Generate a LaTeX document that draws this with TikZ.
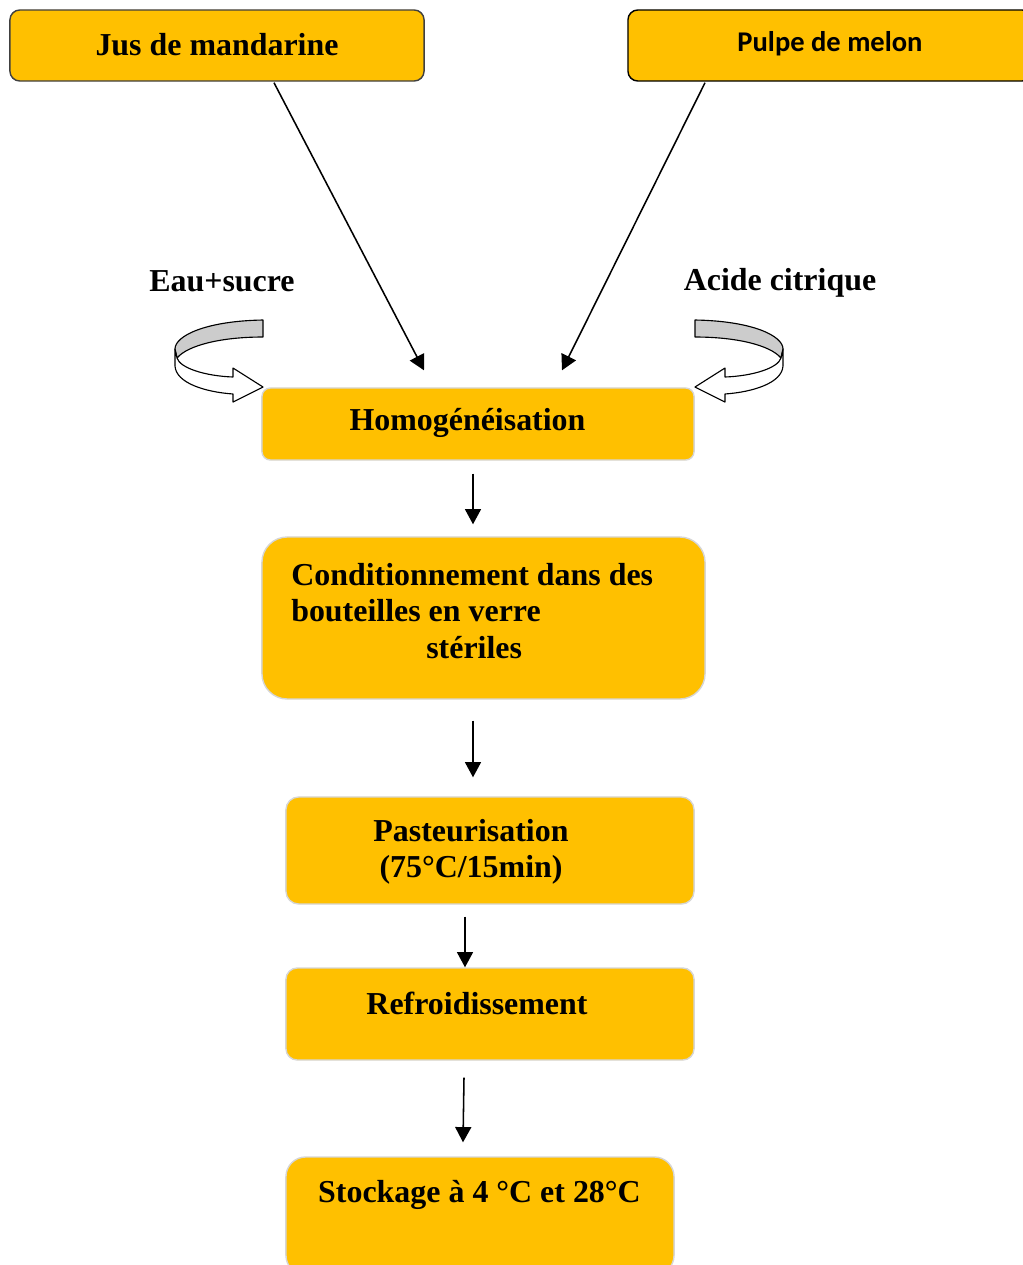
\documentclass[tikz,border=0pt]{standalone}
\usepackage{fontspec}
\setmainfont{Liberation Serif}
\newfontfamily\calibri{Carlito}
\usetikzlibrary{arrows.meta}

\definecolor{boxorange}{HTML}{FFC000}
\definecolor{ribbon}{HTML}{CCCCCC}
\definecolor{lightrim}{HTML}{D6D6D6}

\tikzset{
  box/.style={draw=lightrim, line width=1pt, fill=boxorange, rounded corners=7pt, inner sep=0pt},
  topbox/.style={box, draw=black!75, line width=1pt},
  lbl/.style={inner sep=0pt, align=center, font=\fontsize{22.7}{26}\selectfont\bfseries},
  arr/.style={line width=1.1pt, -{Triangle[length=0.38cm,width=0.4cm]}},
  band/.style={draw=black, line width=0.8pt, line join=round},
}

\begin{document}
\begin{tikzpicture}[x=0.025cm, y=-0.025cm]
	\useasboundingbox (0,0) rectangle (1022,1265);

	% raw materials
	\node[topbox, minimum width=10.35cm, minimum height=1.775cm] (jus) at (217,45.5) {};
	\node[lbl] (jusT) at (217,45) {Jus de mandarine};
	\node[topbox, draw=black, minimum width=10.1cm, minimum height=1.775cm] (pulpe) at (830,45.5) {};
	\node[lbl, font=\calibri\fontsize{20.3}{24}\selectfont\bfseries] (pulpeT) at (830,44) {Pulpe de melon};

	\node[lbl] (eau) at (222,281) {Eau+sucre};
	\node[lbl] (acide) at (780,283) {Acide citrique};

	% process steps
	\node[box, minimum width=10.8cm, minimum height=1.8cm, rounded corners=6pt] (homog) at (478,424) {};
	\node[lbl] (homogT) at (467.5,423) {Homogénéisation};

	\node[box, minimum width=11.075cm, minimum height=4.05cm, rounded corners=18pt] (cond) at (483.5,618) {};
	\node[lbl, align=left, anchor=west] (condT) at (291,611)
		{Conditionnement dans des\\bouteilles en verre\\\hspace*{3.375cm}stériles};

	\node[box, minimum width=10.2cm, minimum height=2.675cm, rounded corners=9pt] (past) at (490,850.5) {};
	\node[lbl] (pastT) at (471,852) {Pasteurisation\\(75°C/15min)};

	\node[box, minimum width=10.2cm, minimum height=2.3cm, rounded corners=8pt] (refr) at (490,1014) {};
	\node[lbl] (refrT) at (477,1003) {Refroidissement};

	\node[box, minimum width=9.7cm, minimum height=2.95cm, rounded corners=14pt] (stock) at (480,1216) {};
	\node[lbl] (stockT) at (479.5,1195) {Stockage à 4 °C et 28°C};

	% feeds
	\coordinate (mixL) at ([shift={(-54,-17)}]homog.north);
	\coordinate (mixR) at ([shift={(84,-17)}]homog.north);
	\draw[arr] ([shift={(57,1)}]jus.south) -- (mixL);
	\draw[arr] ([shift={(-125,1)}]pulpe.south) -- (mixR);

	% flow
	\draw[arr] ([shift={(-5,13)}]homog.south) -- ([shift={(-10.5,-12)}]cond.north);
	\draw[arr] ([shift={(-10.5,21)}]cond.south) -- ([shift={(-17,-19)}]past.north);
	\draw[arr] ([shift={(-25,12)}]past.south) -- ([shift={(-25,0)}]refr.north);
	\draw[arr] ([shift={(-26,17)}]refr.south) -- ([shift={(-17,-14)}]stock.north);

	% curved add-in arrows
	\filldraw[band, fill=ribbon] (263,320) .. controls (205,321) and (175,336) .. (175,349)
		-- (177,358) .. controls (188,345) and (222,337) .. (263,337) -- cycle;
	\filldraw[band, fill=white] (175,349) -- (175,366) .. controls (176,383) and (205,392) .. (233,394)
		-- (233,402) -- (263,387) -- (233,368) -- (233,377)
		.. controls (205,376) and (180,368) .. (177,358) -- cycle;
	\begin{scope}[shift={(958,0)}, xscale=-1]
		\filldraw[band, fill=ribbon] (263,320) .. controls (205,321) and (175,336) .. (175,349)
			-- (177,358) .. controls (188,345) and (222,337) .. (263,337) -- cycle;
		\filldraw[band, fill=white] (175,349) -- (175,366) .. controls (176,383) and (205,392) .. (233,394)
			-- (233,402) -- (263,387) -- (233,368) -- (233,377)
			.. controls (205,376) and (180,368) .. (177,358) -- cycle;
	\end{scope}
\end{tikzpicture}
\end{document}
